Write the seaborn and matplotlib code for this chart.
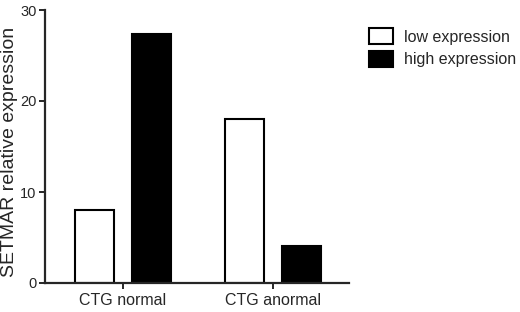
import pandas as pd
import seaborn as sns
import matplotlib.pyplot as plt

# values
groups = ['CTG normal', 'CTG anormal']
low_expr = [8.0, 18.0]
high_expr = [27.4, 4.1]
series = ['low expression', 'high expression']
y_ticks = [0, 10, 20, 30]

df = pd.DataFrame({
    'group': groups * 2,
    'level': [series[0]] * 2 + [series[1]] * 2,
    'value': low_expr + high_expr,
})

sns.set_style('ticks')
plt.rcParams['font.family'] = ['Liberation Sans', 'DejaVu Sans']

fig = plt.figure(figsize=(5.2, 3.12), dpi=100)
ax = fig.add_axes([45 / 520, 29 / 312, 304 / 520, 273 / 312])

sns.barplot(data=df, x='group', y='value', hue='level', hue_order=series,
            palette=['white', 'black'], width=0.76, gap=0.32,
            edgecolor='black', linewidth=1.5, ax=ax)

ax.set_xlim(-0.52, 1.507)
ax.set_ylim(0, 30)
ax.set_yticks(y_ticks)
ax.set_xlabel('')
ax.set_ylabel('SETMAR relative expression', fontsize=14)
ax.yaxis.set_label_coords(-0.088, 0.48)
sns.despine(ax=ax)
for s in ['left', 'bottom']:
    ax.spines[s].set_linewidth(1.6)
ax.tick_params(axis='both', width=1.4, length=4, pad=2)
ax.tick_params(axis='y', labelsize=10.5)
ax.tick_params(axis='x', labelsize=11.5, pad=3)

ax.legend(loc='upper left', bbox_to_anchor=(363 / 520, 1 - 22 / 312),
          bbox_transform=fig.transFigure, frameon=False, fontsize=11.5,
          handlelength=1.5, handleheight=1.15, labelspacing=0.4,
          handletextpad=0.65, borderaxespad=0)
for p in ax.get_legend().get_patches():
    p.set_linewidth(1.5)

fig.savefig('out.png', dpi=100)
